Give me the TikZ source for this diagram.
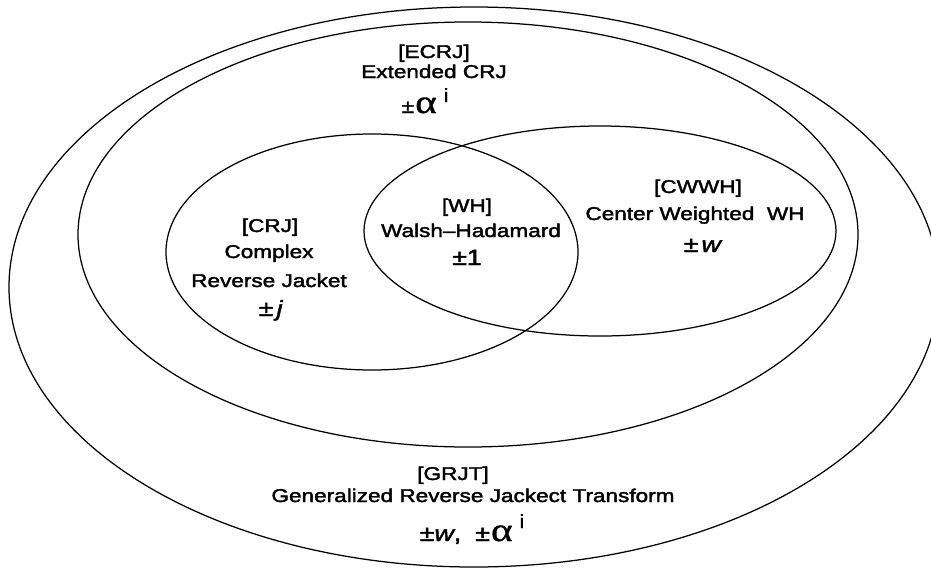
\documentclass[tikz,border=0pt]{standalone}
\usepackage{fontspec}
\setmainfont{Liberation Sans}[FakeStretch=1.22,FakeBold=2]
\newfontfamily\greekfont{Liberation Serif}[FakeStretch=1.25,FakeBold=1]
\newfontfamily\plainfont{Liberation Sans}[FakeStretch=1.1,FakeBold=1]
\usetikzlibrary{shapes.geometric}
\newcommand\myalpha{{\greekfont\fontsize{33}{33}\selectfont α}}
\newcommand\mysupi[1]{\raisebox{#1}{\plainfont\fontsize{19}{19}\selectfont i}}
\begin{document}
\begin{tikzpicture}[x=1pt,y=-1pt,
  setline/.style={draw, ellipse, line width=1.25pt, inner sep=0pt, outer sep=0pt},
  lbl/.style={anchor=base, inner sep=0pt, font=\fontsize{18.5}{20}\selectfont},
  biglbl/.style={anchor=base, inner sep=0pt, font=\fontsize{22}{24}\selectfont}]
\useasboundingbox (0,0) rectangle (931,568);
\clip (0,0) rectangle (931,568);
\fill[white] (0,0) rectangle (931,568);
% sets
\node[setline, minimum width=930pt, minimum height=560pt] (grjt) at (474,287) {};
\node[setline, minimum width=780pt, minimum height=425pt] (ecrj) at (468,234.5) {};
\node[setline, minimum width=412pt, minimum height=236pt] (crj) at (372,252) {};
\node[setline, minimum width=472pt, minimum height=210pt] (cwwh) at (600,231) {};
% ECRJ
\node[lbl] (ecrjA) at (434,58) {[ECRJ]};
\node[lbl] (ecrjB) at (434,78) {Extended CRJ};
\node[biglbl, font=\fontsize{19}{20}\selectfont] (ecrjC) at (425,113) {±\hspace{1pt}\myalpha\hspace{7pt}\mysupi{11pt}};
% CRJ
\node[lbl] (crjA) at (270,232) {[CRJ]};
\node[lbl] (crjB) at (269,258) {Complex};
\node[lbl] (crjC) at (269,287) {Reverse Jacket};
\node[biglbl] (crjD) at (271,316) {±\hspace{3pt}\textit{j}};
% WH
\node[lbl] (whA) at (467,212) {[WH]};
\node[lbl] (whB) at (471,237) {Walsh–Hadamard};
\node[biglbl] (whC) at (467,265) {±1};
% CWWH
\node[lbl] (cwwhA) at (698,193) {[CWWH]};
\node[lbl] (cwwhB) at (695,220) {Center Weighted\ \ WH};
\node[biglbl] (cwwhC) at (703,252) {±\hspace{3pt}\textit{w}};
% GRJT
\node[lbl] (grjtA) at (453,480) {[GRJT]};
\node[lbl] (grjtB) at (473,502) {Generalized Reverse Jackect Transform};
\node[biglbl] (grjtC) at (472,541) {±\textit{w},\hspace{14pt}±\hspace{1pt}\myalpha\hspace{7pt}\mysupi{13pt}};
\end{tikzpicture}
\end{document}
